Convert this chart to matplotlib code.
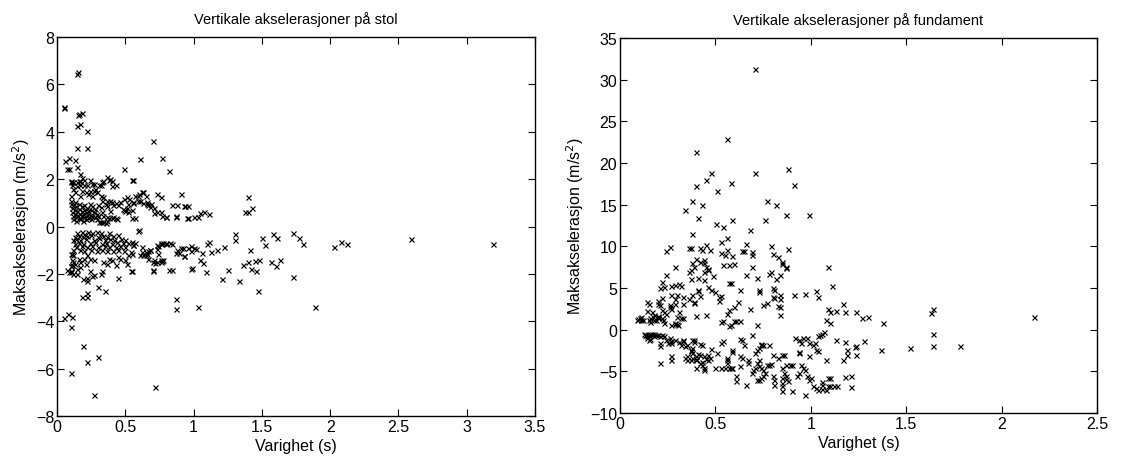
import numpy as np
import matplotlib
matplotlib.use("Agg")
from matplotlib import pyplot as plt
from matplotlib.ticker import FormatStrFormatter

# ---- stol (chair) : (varighet, maks akselerasjon) ----
stol_top = [(0.144, 6.44), (0.156, 6.54), (0.051, 5.06), (0.055, 5.0), (0.156, 4.7), (0.165, 4.75),
            (0.18, 4.78), (0.15, 4.26), (0.17, 4.35), (0.22, 4.05), (0.15, 3.3), (0.22, 3.3),
            (0.70, 3.63), (0.61, 2.84), (0.77, 2.88), (0.82, 2.33), (0.49, 2.44), (0.55, 1.98),
            (0.56, 1.95), (0.06, 2.78), (0.09, 2.88), (0.13, 2.82), (0.07, 2.43), (0.09, 2.45),
            (0.15, 2.5), (0.17, 2.2), (0.18, 2.05)]

stol_upper = [(0.1, 1.9), (0.15, 1.9), (0.17, 1.92), (0.12, 1.6), (0.13, 1.46), (0.15, 1.7), (0.18, 1.5),
              (0.2, 1.75), (0.21, 1.48), (0.26, 1.8), (0.27, 1.5), (0.31, 1.75), (0.33, 1.9), (0.37, 2.1),
              (0.39, 2.0), (0.40, 1.7), (0.1, 1.1), (0.12, 0.9), (0.13, 1.05), (0.33, 1.1), (0.36, 0.95),
              (0.41, 0.9), (0.45, 0.9), (0.49, 0.7), (0.51, 1.25), (0.53, 1.15), (0.55, 0.7), (0.56, 1.05),
              (0.59, 1.3), (0.63, 1.45), (0.61, 1.1), (0.66, 1.05), (0.69, 0.95), (0.71, 0.8), (0.73, 1.38),
              (0.76, 1.24), (0.71, 0.57), (0.76, 0.63), (0.80, 0.39), (0.84, 0.91), (0.91, 1.38),
              (0.93, 0.89), (0.96, 0.89), (0.87, 0.46), (0.96, 0.35), (1.03, 0.39), (1.05, 0.57),
              (1.08, 0.63), (1.11, 0.53), (1.40, 1.26), (1.38, 0.63), (1.40, 0.63), (1.43, 0.77),
              (0.55, 0.35), (0.38, 0.35), (0.41, 0.39), (0.31, 0.18), (0.36, 0.14),
              (0.1, 1.93), (0.12, 1.9), (0.16, 1.93), (0.20, 1.95), (0.24, 1.95), (0.34, 1.93), (0.38, 1.95),
              (0.40, 1.93), (0.11, 1.75), (0.17, 1.75), (0.22, 1.75), (0.27, 1.78), (0.32, 1.75), (0.43, 1.75),
              (0.24, 1.5), (0.28, 1.58), (0.29, 1.45), (0.10, 1.3), (0.17, 1.3), (0.23, 1.38), (0.26, 1.3),
              (0.32, 1.3), (0.34, 1.23), (0.37, 1.1), (0.39, 1.1), (0.40, 1.02), (0.43, 0.99), (0.49, 1.16),
              (0.57, 1.3), (0.60, 1.38), (0.62, 1.48), (0.65, 1.3), (0.46, 1.02), (0.52, 0.95), (0.56, 1.0),
              (0.59, 1.1), (0.63, 1.0), (0.66, 0.95), (0.67, 0.92), (0.68, 0.81), (0.48, 0.75), (0.50, 0.67),
              (0.52, 0.6), (0.51, 0.8), (0.39, 0.67), (0.37, 0.88), (0.32, 0.81), (0.33, 0.6), (0.34, 0.46),
              (0.37, 0.39), (0.88, 0.9), (0.94, 0.88), (0.80, 0.42), (0.73, 0.6), (0.77, 0.46), (0.87, 0.42),
              (0.95, 0.35), (1.0, 0.39), (0.57, 0.35), (0.40, 0.35), (0.43, 0.35), (0.44, 0.32), (0.32, 0.2),
              (0.34, 0.18), (0.37, 0.25),
              (0.10, 0.95), (0.11, 0.8), (0.11, 0.6), (0.12, 0.45), (0.12, 0.3), (0.13, 0.7), (0.13, 0.55),
              (0.14, 0.85), (0.14, 0.4), (0.14, 0.25), (0.15, 0.65), (0.15, 0.5), (0.16, 0.95), (0.16, 0.35),
              (0.16, 0.75), (0.17, 0.55), (0.17, 0.3), (0.18, 0.85), (0.18, 0.45), (0.18, 0.65), (0.19, 0.25),
              (0.19, 0.55), (0.20, 0.9), (0.20, 0.4), (0.20, 0.7), (0.21, 0.3), (0.21, 0.6), (0.22, 0.5),
              (0.22, 0.8), (0.23, 0.35), (0.23, 0.65), (0.24, 0.95), (0.24, 0.5), (0.25, 0.3), (0.25, 0.7),
              (0.26, 0.45), (0.26, 0.85), (0.27, 0.6), (0.28, 0.4), (0.28, 0.75), (0.29, 0.55), (0.29, 0.3),
              (0.30, 0.9), (0.30, 0.45)]

stol_lower = [(0.59, -0.17), (1.30, -0.31), (1.30, -0.55), (1.58, -0.31), (1.61, -0.5), (1.73, -0.27),
              (1.77, -0.49), (1.80, -0.73), (1.50, -0.5), (1.52, -0.76), (1.41, -0.97), (1.22, -0.88),
              (1.17, -0.98), (1.13, -1.09), (1.10, -0.73), (1.11, -0.64), (1.06, -1.12), (1.05, -1.41),
              (1.07, -1.55), (1.09, -1.9), (1.02, -0.95), (0.98, -0.83), (0.99, -1.76), (0.92, -0.9),
              (0.93, -1.26), (0.89, -1.12), (0.84, -0.73), (0.80, -0.73), (0.76, -0.73), (0.74, -0.8),
              (0.74, -1.16), (0.72, -1.54), (0.70, -1.51), (0.76, -1.51), (0.77, -1.47), (0.70, -1.88),
              (0.84, -1.82), (0.68, -0.98), (0.65, -1.2), (0.63, -1.2), (0.62, -0.85), (0.67, -1.03),
              (0.57, -0.69), (0.56, -0.78), (0.55, -1.16), (0.55, -1.88), (0.09, -1.93), (0.10, -1.86),
              (0.10, -1.65), (0.11, -1.6), (0.11, -1.15), (0.12, -1.2), (0.12, -1.5), (0.17, -1.7),
              (0.15, -2.0), (1.25, -1.82), (1.36, -1.6), (1.40, -1.51), (1.42, -1.8), (1.46, -1.86),
              (1.45, -1.47), (1.48, -1.4), (1.57, -1.5), (1.60, -1.65), (1.63, -1.43), (2.03, -0.88),
              (2.08, -0.66), (2.12, -0.73), (2.59, -0.52), (3.19, -0.73),
              (0.60, -0.16), (0.55, -0.65), (0.56, -0.79), (0.62, -1.07), (0.65, -1.07), (0.66, -1.17),
              (0.68, -1.0), (0.67, -1.35), (0.61, -1.21), (0.73, -0.79), (0.76, -0.69), (0.78, -0.69),
              (0.80, -0.69), (0.83, -0.69), (0.73, -0.93), (0.71, -1.42), (0.73, -1.49), (0.76, -1.42),
              (0.78, -1.42), (0.70, -1.84), (0.87, -1.11), (0.88, -1.0), (0.91, -0.89), (0.93, -1.25),
              (0.96, -0.89), (0.98, -1.03), (1.0, -0.89), (0.82, -1.82), (0.98, -1.77), (0.54, -1.87),
              (0.33, -1.87), (0.24, -1.87), (0.10, -1.92), (0.12, -1.99), (0.07, -1.82),
              (0.10, -1.14), (0.11, -1.42), (0.10, -1.68), (0.13, -1.56), (0.15, -1.77), (0.16, -1.35),
              (0.17, -1.5), (0.20, -1.35), (0.21, -1.56), (0.22, -1.21), (0.24, -1.35), (0.27, -1.42),
              (0.34, -1.49), (0.37, -1.56), (0.38, -1.35), (0.40, -1.42), (0.43, -1.63), (0.45, -1.28),
              (0.46, -1.35), (0.50, -1.42), (0.51, -1.56), (0.52, -1.21), (0.54, -1.07),
              (0.15, -0.26), (0.18, -0.22), (0.20, -0.3), (0.23, -0.24), (0.26, -0.28), (0.29, -0.22),
              (0.32, -0.27), (0.38, -0.25),
              (0.13, -0.42), (0.16, -0.38), (0.19, -0.45), (0.22, -0.4), (0.25, -0.36), (0.30, -0.43),
              (0.34, -0.39), (0.37, -0.44), (0.41, -0.4), (0.45, -0.37),
              (0.12, -0.57), (0.14, -0.52), (0.17, -0.58), (0.21, -0.54), (0.27, -0.56), (0.31, -0.5),
              (0.35, -0.57), (0.39, -0.53), (0.42, -0.58), (0.47, -0.52), (0.50, -0.56),
              (0.13, -0.72), (0.16, -0.68), (0.19, -0.74), (0.24, -0.7), (0.28, -0.66), (0.33, -0.73),
              (0.36, -0.69), (0.40, -0.72), (0.44, -0.67), (0.48, -0.71), (0.52, -0.7),
              (0.14, -0.86), (0.18, -0.83), (0.22, -0.88), (0.26, -0.84), (0.30, -0.87), (0.35, -0.82),
              (0.38, -0.88), (0.43, -0.85), (0.46, -0.83), (0.50, -0.87),
              (0.12, -1.0), (0.17, -0.98), (0.20, -1.03), (0.25, -0.99), (0.29, -1.02), (0.33, -0.97),
              (0.37, -1.01), (0.41, -1.04), (0.45, -0.98), (0.49, -1.01)]

stol_bottom = [(0.45, -2.18), (0.35, -2.73), (0.30, -2.54), (0.32, -2.0), (0.27, -2.04), (0.26, -2.1),
               (0.22, -2.28), (0.22, -2.18), (0.19, -2.21), (0.18, -2.98), (0.22, -2.98), (0.22, -2.8),
               (1.21, -2.21), (1.33, -2.28), (1.47, -2.7), (1.73, -2.14), (0.87, -3.05), (0.87, -3.47),
               (1.03, -3.38), (0.05, -3.87), (0.08, -3.69), (0.11, -3.83), (0.10, -4.25), (0.19, -5.02),
               (0.22, -5.7), (0.30, -5.52), (0.10, -6.18), (0.27, -7.09), (0.72, -6.78), (1.89, -3.38)]

# ---- fundament (foundation) ----
fund_high = [(0.71, 31.3), (0.56, 22.9), (0.40, 21.3), (0.48, 18.8), (0.71, 18.8), (0.88, 19.25),
             (0.45, 17.9), (0.40, 17.2), (0.58, 17.6), (0.91, 17.3), (0.51, 16.6), (0.38, 15.4),
             (0.43, 15.0), (0.77, 15.4), (0.82, 15.0), (0.34, 14.4), (0.87, 13.8), (0.99, 13.8),
             (0.41, 13.4), (0.505, 12.7), (0.54, 12.3), (0.59, 13.2), (0.76, 13.2), (0.68, 12.0),
             (0.38, 11.5), (0.56, 11.0), (0.53, 10.5), (0.66, 10.3), (0.45, 10.1), (0.79, 10.0)]

fund_mid = [(0.24, 9.4), (0.26, 9.96), (0.36, 9.8), (0.37, 9.8), (0.42, 9.8), (0.43, 9.6), (0.47, 9.6),
            (0.56, 9.6), (0.53, 9.2), (0.64, 9.4), (0.65, 9.4), (0.69, 9.3), (0.69, 8.9), (0.80, 9.1),
            (0.88, 9.7), (0.38, 8.0), (0.40, 8.5), (0.42, 8.1), (0.44, 8.4), (0.44, 8.0), (0.45, 7.5),
            (0.46, 7.3), (0.46, 7.2), (0.44, 6.9), (0.39, 7.5), (0.37, 7.2), (0.36, 6.9), (0.37, 6.1),
            (0.41, 6.2), (0.44, 6.0), (0.49, 6.4), (0.54, 7.8), (0.57, 7.8), (0.60, 7.9), (0.55, 8.9),
            (0.59, 8.8), (0.69, 7.5), (0.66, 6.5), (0.72, 6.2), (0.78, 6.7), (0.79, 6.9), (0.83, 8.7),
            (0.85, 7.9), (0.85, 8.1), (0.82, 6.1), (0.84, 6.5), (0.87, 7.5), (0.87, 7.4), (1.09, 7.5),
            (1.11, 5.2), (1.04, 3.9), (1.03, 4.6), (0.91, 4.2), (0.97, 4.3), (0.84, 4.1), (0.84, 3.7),
            (0.80, 5.0), (0.81, 4.8), (0.80, 3.9), (0.81, 3.8), (0.75, 2.9), (0.77, 3.2), (0.83, 2.8),
            (0.84, 2.7), (0.84, 1.8), (0.73, 4.7), (0.73, 4.5), (0.68, 2.5), (0.72, 0.6), (0.63, 4.7),
            (0.57, 5.6), (0.58, 5.6), (0.63, 1.0), (0.61, 1.0), (0.57, 0.4), (0.54, 1.0), (0.62, 3.3),
            (0.60, 2.7), (0.57, 2.3), (0.56, 1.9), (0.52, 3.9), (0.53, 4.0), (0.52, 3.4), (0.50, 4.5),
            (0.48, 4.7), (0.46, 5.1), (0.42, 4.0), (0.41, 4.6), (0.41, 4.7), (0.38, 4.1), (0.36, 3.7),
            (0.39, 3.3), (0.39, 3.2), (0.33, 3.1), (0.33, 3.9), (0.30, 4.1), (0.29, 3.7), (0.29, 3.1),
            (0.27, 4.2), (0.27, 5.2), (0.32, 5.2), (0.31, 5.5), (0.29, 5.3), (0.24, 6.6), (0.22, 5.7),
            (0.23, 5.1), (0.21, 5.0), (0.29, 7.5), (0.14, 3.3), (0.15, 3.1), (0.20, 3.1), (0.20, 3.4),
            (0.21, 2.9), (0.22, 3.8), (0.26, 2.9), (0.26, 2.7), (0.22, 2.3), (0.23, 2.1), (0.24, 1.9),
            (0.27, 2.5), (0.31, 2.1), (0.30, 1.5), (0.33, 1.4), (0.29, 0.8), (0.29, 0.7), (0.30, 0.7),
            (0.17, 2.1), (0.18, 1.7), (0.14, 2.2), (0.20, 1.6), (0.22, 1.35), (0.23, 0.8), (0.096, 1.3),
            (0.108, 1.2), (0.11, 1.5), (0.12, 1.1), (0.088, 1.2), (0.15, 1.1), (0.16, 0.95), (0.18, 1.1),
            (0.19, 1.1), (0.20, 1.5), (0.40, 1.6), (0.45, 1.8),
            (1.17, 3.1), (1.18, 2.1), (1.09, 2.5), (1.10, 2.1), (1.13, 2.2), (1.08, 1.2), (1.10, 0.8),
            (1.24, 2.1), (1.27, 1.35), (1.30, 1.5), (1.38, 0.83), (1.63, 1.95), (1.64, 2.5), (2.17, 1.56),
            (0.105, 1.35), (0.16, 1.4), (0.175, 1.5), (0.2, 1.35), (0.227, 1.2), (0.27, 0.6), (0.306, 0.6),
            (0.32, 1.4), (0.53, 0.9), (0.58, 0.5), (0.60, 1.0)]

fund_low = [(0.125, -0.5), (0.135, -0.6), (0.14, -0.8), (0.155, -0.6), (0.16, -0.5), (0.18, -0.55),
            (0.2, -0.6), (0.21, -0.8), (0.19, -0.7), (0.22, -0.7), (0.15, -1.2), (0.16, -1.1), (0.14, -1.0),
            (0.21, -1.6), (0.21, -2.0), (0.26, -1.0), (0.27, -1.4), (0.25, -1.6), (0.29, -1.3), (0.31, -1.5),
            (0.33, -1.3), (0.33, -1.4), (0.35, -1.9), (0.37, -2.4), (0.37, -2.6), (0.38, -2.2), (0.42, -1.7),
            (0.43, -1.8), (0.39, -1.2), (0.39, -1.5), (0.38, -2.8), (0.40, -3.2), (0.38, -3.4), (0.40, -3.5),
            (0.41, -2.9), (0.42, -3.1), (0.44, -3.2), (0.45, -3.5), (0.43, -3.9), (0.46, -3.1), (0.47, -3.4),
            (0.46, -3.6), (0.40, -3.6), (0.42, -4.0), (0.43, -4.2), (0.44, -4.6), (0.44, -4.9), (0.37, -3.6),
            (0.34, -3.4), (0.40, -4.6), (0.21, -4.0), (0.27, -3.7), (0.35, -3.6), (0.48, -2.3), (0.51, -2.8),
            (0.50, -4.6), (0.53, -4.6), (0.55, -4.6), (0.57, -4.6), (0.58, -4.6), (0.59, -4.6), (0.53, -1.6),
            (0.54, -1.4), (0.56, -3.4), (0.56, -3.6), (0.56, -4.0), (0.59, -2.4), (0.59, -2.7), (0.61, -5.6),
            (0.61, -6.2), (0.63, -4.4), (0.63, -3.2), (0.64, -3.4), (0.63, -1.15), (0.64, -1.3), (0.65, -1.8),
            (0.67, -4.0), (0.67, -3.7), (0.66, -6.6), (0.69, -5.2), (0.70, -4.8), (0.71, -4.6), (0.72, -4.0),
            (0.73, -3.6), (0.69, -0.6), (0.71, -2.8), (0.72, -2.4), (0.73, -2.2), (0.74, -1.8), (0.74, -1.7),
            (0.75, -1.9), (0.78, -1.8), (0.73, -4.4), (0.74, -4.6), (0.75, -4.9), (0.76, -5.2), (0.75, -5.6),
            (0.74, -5.8), (0.73, -6.0), (0.72, -6.1), (0.77, -4.2), (0.78, -4.3), (0.79, -4.1), (0.80, -5.6),
            (0.81, -6.1), (0.81, -6.6), (0.85, -5.8), (0.85, -6.4), (0.83, -3.4), (0.85, -3.1), (0.86, -3.0),
            (0.85, -4.6), (0.86, -5.2), (0.87, -5.6), (0.87, -5.9), (0.88, -6.2), (0.85, -6.8), (0.85, -7.4),
            (0.90, -7.4), (0.87, -4.2), (0.89, -4.2), (0.90, -4.3), (0.80, -3.0), (0.94, -2.8), (0.94, -2.7),
            (0.92, -1.0), (0.94, -1.3), (0.96, -1.0), (0.98, -1.0), (0.95, -1.6), (0.99, -1.6), (0.95, -4.2),
            (0.96, -4.6), (0.97, -4.9), (0.98, -5.6), (0.99, -3.2), (0.99, -6.0), (0.94, -5.2), (0.93, -5.6),
            (0.97, -7.8), (1.01, -6.8), (1.03, -7.0), (1.04, -7.2), (1.06, -7.1), (1.08, -7.2), (1.09, -6.8),
            (1.06, -6.7), (1.03, -2.4), (1.04, -2.6), (1.01, -1.8), (1.02, -1.6), (1.04, -0.8), (1.05, -0.6),
            (1.06, -0.5), (1.07, -0.35), (1.08, -3.6), (1.10, -5.8), (1.10, -6.8), (1.12, -6.8), (1.14, -6.8),
            (1.13, -1.3), (1.17, -3.6), (1.18, -1.5), (1.19, -2.5), (1.19, -3.1), (1.18, -5.7), (1.21, -5.6),
            (1.21, -6.9), (1.24, -2.0), (1.24, -3.0), (1.64, -0.55), (1.64, -2.0), (1.78, -2.0), (1.52, -2.2),
            (1.37, -2.5), (1.28, -1.35), (1.23, -2.1), (1.0, -5.8), (1.06, -6.3), (1.09, -5.8),
            (0.13, -0.63), (0.15, -0.7), (0.17, -0.55), (0.18, -0.75), (0.23, -0.8), (0.24, -1.3),
            (0.27, -1.6), (0.32, -1.8), (0.34, -2.0), (0.38, -1.2), (0.27, -3.2), (0.35, -3.2)]

stol = stol_top + stol_upper + stol_lower + stol_bottom
fund = fund_high + fund_mid + fund_low

plt.rcParams['font.family'] = ['Liberation Sans', 'DejaVu Sans']

fig = plt.figure(figsize=(11.21, 4.64), dpi=100)
ax1 = fig.add_axes([0.0508, 0.101, 0.4265, 0.817])
ax2 = fig.add_axes([0.553, 0.108, 0.4255, 0.808])


def style(ax, title):
    ax.set_title(title, fontsize=10.5, pad=10)
    ax.set_xlabel('Varighet (s)', fontsize=11.5, labelpad=3)
    ax.set_ylabel('Maksakselerasjon (m/s$^2$)', fontsize=11.5, labelpad=3)
    ax.tick_params(direction='in', top=True, right=True, length=5, width=0.8, labelsize=11.5, pad=2)
    ax.xaxis.set_major_formatter(FormatStrFormatter('%g'))
    for s in ax.spines.values():
        s.set_linewidth(1.0)


x, y = zip(*stol)
ax1.plot(x, y, 'kx', markersize=3.6, markeredgewidth=0.85)
ax1.set_xlim(0, 3.5)
ax1.set_ylim(-8, 8)
ax1.set_xticks(np.arange(0, 3.51, 0.5))
ax1.set_yticks(np.arange(-8, 9, 2))
style(ax1, 'Vertikale akselerasjoner på stol')

x, y = zip(*fund)
ax2.plot(x, y, 'kx', markersize=3.6, markeredgewidth=0.85)
ax2.set_xlim(0, 2.5)
ax2.set_ylim(-10, 35)
ax2.set_xticks(np.arange(0, 2.51, 0.5))
ax2.set_yticks(np.arange(-10, 36, 5))
style(ax2, 'Vertikale akselerasjoner på fundament')

fig.savefig('out.png', dpi=100)
